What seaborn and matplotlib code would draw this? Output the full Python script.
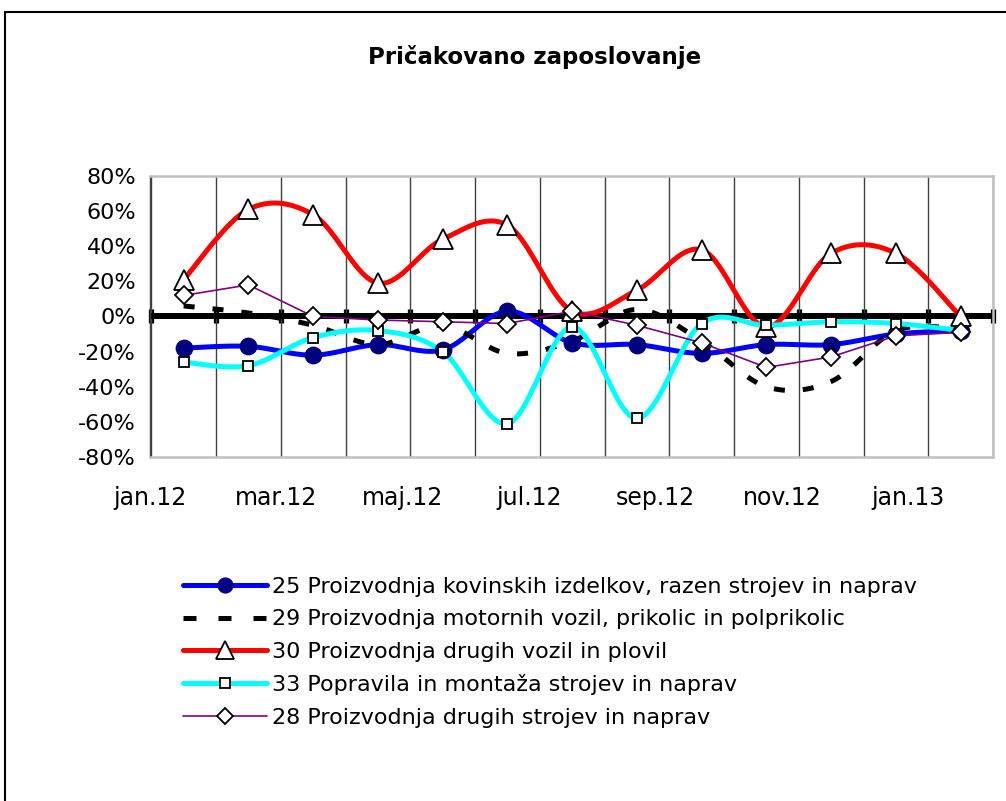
import numpy as np
import pandas as pd
import matplotlib.pyplot as plt
import seaborn as sns
from matplotlib.lines import Line2D
from matplotlib.patches import Rectangle

months = ['jan.12', 'feb.12', 'mar.12', 'apr.12', 'maj.12', 'jun.12', 'jul.12',
          'avg.12', 'sep.12', 'okt.12', 'nov.12', 'dec.12', 'jan.13']
tick_labels = ['jan.12', 'mar.12', 'maj.12', 'jul.12', 'sep.12', 'nov.12', 'jan.13']

s25 = [-18, -17, -22, -16, -19, 3, -15, -16, -21, -16, -16, -10, -8]
s29 = [6, 2, -5, -16, -5, -21, -14, 4, -14, -40, -37, -8, -7]
s30 = [21, 61, 58, 19, 44, 52, 3, 15, 38, -6, 36, 36, 0]
s33 = [-26, -28, -12, -8, -20, -61, -6, -58, -4, -5, -3, -4, -8]
s28 = [12, 18, 0, -2, -3, -4, 3, -5, -15, -29, -23, -11, -9]

names = ['25 Proizvodnja kovinskih izdelkov, razen strojev in naprav',
         '29 Proizvodnja motornih vozil, prikolic in polprikolic',
         '30 Proizvodnja drugih vozil in plovil',
         '33 Popravila in montaža strojev in naprav',
         '28 Proizvodnja drugih strojev in naprav']


def smooth(y, n=24):
    # excel-like smoothed line (catmull-rom bezier)
    y = np.asarray(y, float) / 100
    x = np.arange(len(y), dtype=float)
    xs, ys = [], []
    for i in range(len(y) - 1):
        i0, i3 = max(i - 1, 0), min(i + 2, len(y) - 1)
        p0, p1, p2, p3 = (np.array([x[j], y[j]]) for j in (i0, i, i + 1, i3))
        c1 = p1 + (p2 - p0) / 6
        c2 = p2 - (p3 - p1) / 6
        t = np.linspace(0, 1, n)[:, None]
        b = (1 - t) ** 3 * p1 + 3 * (1 - t) ** 2 * t * c1 + 3 * (1 - t) * t ** 2 * c2 + t ** 3 * p2
        xs.extend(b[:, 0])
        ys.extend(b[:, 1])
    return np.array(xs), np.array(ys)


sns.set_style('white')
plt.rcParams['font.family'] = ['DejaVu Sans']
plt.rcParams['text.color'] = 'black'
plt.rcParams['xtick.labelcolor'] = 'black'
plt.rcParams['ytick.labelcolor'] = 'black'

fig = plt.figure(figsize=(10.06, 8.01), dpi=100)
ax = fig.add_axes([150 / 1006, 1 - 457 / 801, 843 / 1006, 281 / 801])

styles = [
    # values, color, lw, marker, ms, mfc, smooth
    (s25, '#0000ff', 3.6, 'o', 11.5, '#000080', True),
    (s29, 'black', 3.6, None, 0, None, True),
    (s30, '#ff0000', 3.6, '^', 14, 'white', True),
    (s33, '#00ffff', 3.6, 's', 7.5, 'white', True),
    (s28, '#800080', 1.2, 'D', 9, 'white', False),
]

ax.axhline(0, color='black', lw=4.3, zorder=2.5)

x = np.arange(len(months))
handles = []
for (vals, col, lw, mk, ms, mfc, sm), name in zip(styles, names):
    if sm:
        xs, ys = smooth(vals)
    else:
        xs, ys = x, np.array(vals) / 100
    if mk is None:
        sns.lineplot(x=xs, y=ys, ax=ax, color=col, lw=lw, sort=False, zorder=3)
        ax.lines[-1].set_dashes([2.2, 3.6])
        ax.lines[-1].set_dash_capstyle('butt')
        h = Line2D([], [], color=col, lw=lw)
        h.set_dashes([2.6, 4.4])
        h.set_dash_capstyle('butt')
        handles.append(h)
    else:
        sns.lineplot(x=xs, y=ys, ax=ax, color=col, lw=lw, sort=False, zorder=3)
        mec = '#000080' if mk == 'o' else 'black'
        ax.plot(x, np.array(vals) / 100, ls='none', marker=mk, ms=ms, mfc=mfc,
                mec=mec, mew=1.3, zorder=4)
        handles.append(Line2D([], [], color=col, lw=lw, marker=mk, ms=ms * 0.9,
                              mfc=mfc, mec=mec, mew=1.3))

ax.set_xlim(-0.5, 12.5)
ax.set_ylim(-0.8, 0.8)
ax.set_yticks(np.arange(-0.8, 0.81, 0.2))
ax.set_yticklabels([f'{v:.0f}%' for v in np.arange(-80, 81, 20)], fontsize=16)
ax.set_xticks(-0.52 + 0.976 * np.arange(0, 13, 2))
ax.set_xticklabels(tick_labels, fontsize=17)
ax.tick_params(axis='x', length=0, pad=21, labelcolor='black')
ax.tick_params(axis='y', length=7, width=1, direction='out', pad=3, color='#404040',
               labelcolor='black')
ax.set_xticks(np.arange(-0.5, 12.6, 1), minor=True)
ax.tick_params(axis='x', which='minor', length=0)
ax.grid(True, which='minor', axis='x', color='#404040', lw=1)
ax.grid(False, which='major')
for side in ['top', 'right', 'bottom']:
    ax.spines[side].set_color('#c0c0c0')
    ax.spines[side].set_linewidth(1.8)
ax.spines['left'].set_color('#404040')
ax.spines['left'].set_linewidth(1)
ax.set_xlabel('')
ax.set_ylabel('')

# tick marks of the horizontal axis, which crosses at 0
zero = ax.secondary_xaxis(0.5)
zero.set_xticks(np.arange(-0.5, 12.6, 1))
zero.set_xticklabels([])
zero.tick_params(direction='inout', length=10, width=3.8, color='black')
for sp in zero.spines.values():
    sp.set_visible(False)

fig.text(535 / 1006, 1 - 57 / 801, 'Pričakovano zaposlovanje', ha='center', va='center',
         fontsize=16.5, fontweight='bold', color='black')

fig.legend(handles, names, loc='upper left', bbox_to_anchor=(174 / 1006, 1 - 568 / 801),
           frameon=False, fontsize=16, handlelength=3.8, handletextpad=0.2,
           labelspacing=0.56, borderaxespad=0, labelcolor='black')

fig.patches.append(Rectangle((5 / 1006, -0.05), 1.1, 1 - 12 / 801 + 0.05,
                             transform=fig.transFigure, fill=False, ec='black', lw=1.5))

fig.savefig('out.png')
